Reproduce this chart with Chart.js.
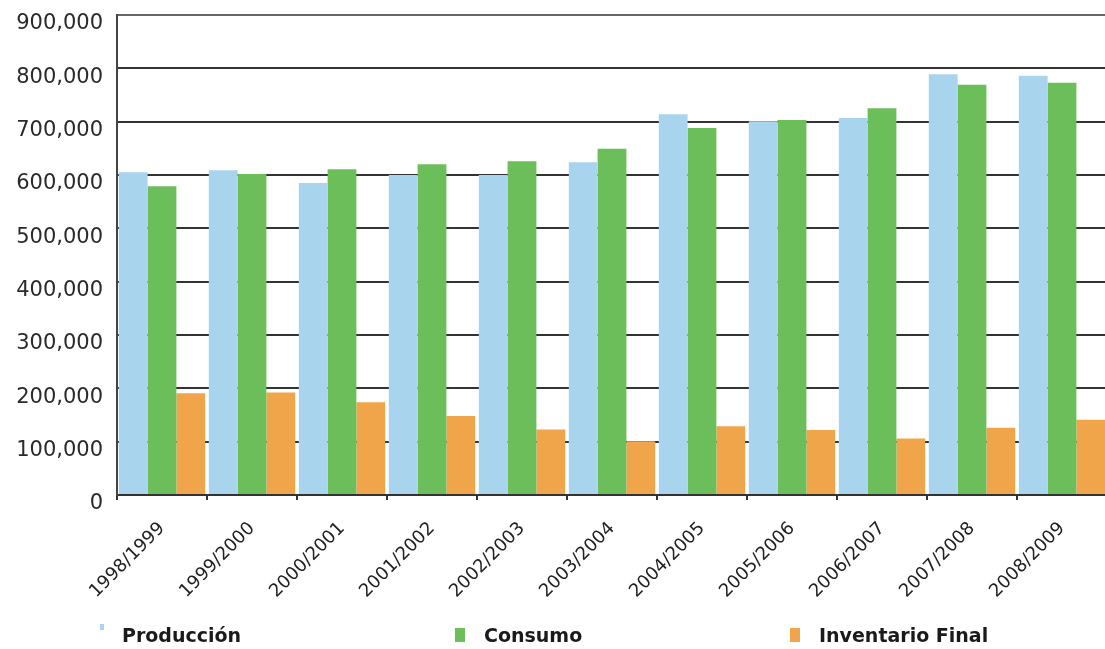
<!DOCTYPE html>
<html>
<head>
<meta charset="utf-8">
<script src="https://cdn.jsdelivr.net/npm/chart.js@4.4.1/dist/chart.umd.min.js"></script>
<style>
  html, body { margin: 0; padding: 0; background: #ffffff; overflow: hidden; }
  #wrap { position: relative; width: 1112px; height: 649px; }
  #legend { position: absolute; left: 0; top: 624px; width: 1105px; height: 25px;
    font-family: "DejaVu Sans", sans-serif; font-weight: bold; font-size: 19px; color: #1a1a1a; }
  #legend .item { position: absolute; top: 0; display: flex; align-items: center; }
  #legend .box { width: 10px; height: 14px; margin-right: 19px; }
</style>
</head>
<body>
<div id="wrap">
  <canvas id="barChart" width="1112" height="649"></canvas>
  <div id="legend"></div>
</div>
<script>
// Producción / Consumo / Inventario Final por ciclo
const seasons = ["1998/1999", "1999/2000", "2000/2001", "2001/2002", "2002/2003", "2003/2004",
  "2004/2005", "2005/2006", "2006/2007", "2007/2008", "2008/2009"];
const produccion = [605000, 609000, 585000, 600000, 600000, 624000, 714000, 701000, 707000, 789000, 786000];
const consumo = [579000, 602000, 611000, 620000, 626000, 649000, 688000, 703000, 725000, 769000, 773000];
const inventarioFinal = [191000, 192000, 174000, 148000, 123000, 101000, 129000, 122000, 106000, 126000, 141000];
const yTicks = [0, 100000, 200000, 300000, 400000, 500000, 600000, 700000, 800000, 900000];

const ctx = document.getElementById("barChart").getContext("2d");
const chart = new Chart(ctx, {
  type: "bar",
  data: {
    labels: seasons,
    datasets: [
      { label: "Producción", data: produccion, backgroundColor: "#a9d4ee" },
      { label: "Consumo", data: consumo, backgroundColor: "#6cbe5a" },
      { label: "Inventario Final", data: inventarioFinal, backgroundColor: "#f1a54b" },
    ],
  },
  options: {
    responsive: false,
    animation: false,
    layout: { padding: { top: 15, right: 5, bottom: 0, left: 0 } },
    datasets: { bar: { categoryPercentage: 0.96, barPercentage: 1.0 } },
    plugins: {
      legend: { display: false },
      tooltip: { enabled: false },
    },
    scales: {
      x: {
        grid: { display: true, drawOnChartArea: false, drawTicks: true, tickLength: 5, color: "#333333", lineWidth: 2 },
        border: { display: true, color: "#333333", width: 2 },
        ticks: {
          color: "#222222",
          font: { family: "DejaVu Sans", size: 18 },
          minRotation: 45,
          maxRotation: 45,
          padding: 18,
          autoSkip: false,
        },
        afterFit: (scale) => { scale.height = 154; },
      },
      y: {
        min: 0,
        max: 900000,
        afterBuildTicks: (scale) => { scale.ticks = yTicks.map((v) => ({ value: v })); },
        grid: {
          color: (c) => (c.tick && c.tick.value === 900000 ? "#666666" : "#333333"),
          lineWidth: 2,
          tickLength: 10,
          tickColor: "rgba(0,0,0,0)",
        },
        border: { display: true, color: "#444444", width: 2 },
        ticks: {
          color: "#2a2a2a",
          font: { family: "DejaVu Sans", size: 21, lineHeight: 1 },
          padding: 4,
          labelOffset: 9,
          callback: (v) => Number(v).toLocaleString("en-US"),
        },
        afterFit: (scale) => { scale.width = 117; },
      },
    },
  },
});

// HTML legend built from the datasets
const legendX = [100, 455, 790];
const legendEl = document.getElementById("legend");
chart.data.datasets.forEach((ds, i) => {
  const item = document.createElement("div");
  item.className = "item";
  item.style.left = legendX[i] + "px";
  const box = document.createElement("span");
  box.className = "box";
  box.style.background = ds.backgroundColor;
  if (i === 0) { box.style.width = "4px"; box.style.height = "6px"; box.style.alignSelf = "flex-start"; box.style.marginRight = "18px"; }
  const txt = document.createElement("span");
  txt.textContent = ds.label;
  item.appendChild(box);
  item.appendChild(txt);
  legendEl.appendChild(item);
});
</script>
</body>
</html>
